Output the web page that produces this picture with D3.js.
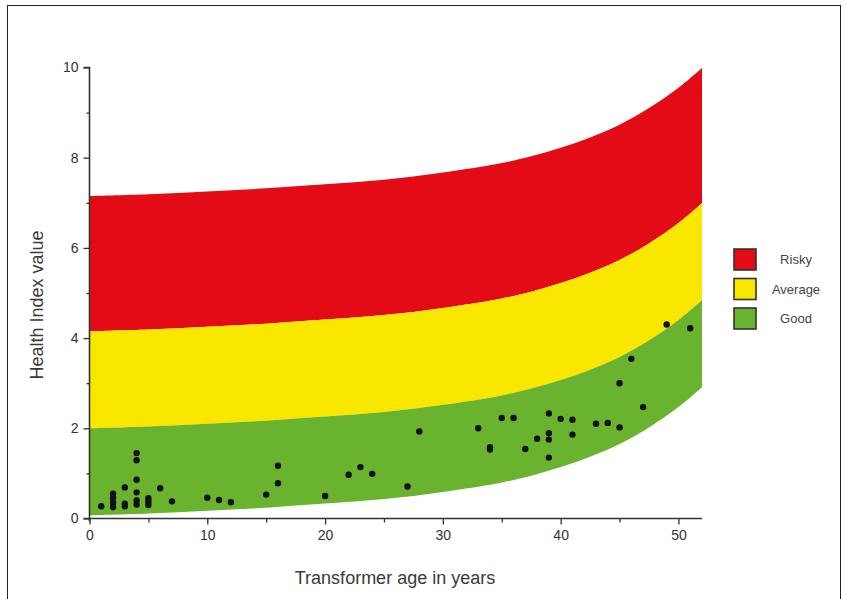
<!DOCTYPE html>
<html>
<head>
<meta charset="utf-8">
<script src="https://d3js.org/d3.v7.min.js"></script>
<style>
  body { margin: 0; background: #fff; }
  svg { display: block; font-family: "Liberation Sans", Arial, sans-serif; }
</style>
</head>
<body>
<svg id="chart" width="847" height="599"></svg>
<script>

// band boundaries, at these ages
const ages        = [0, 5, 10, 15, 20, 25, 30, 35, 37.5, 40, 42.5, 45, 47.5, 50, 52]
const goodBottom  = [0.07, 0.11, 0.17, 0.24, 0.33, 0.43, 0.59, 0.80, 0.95, 1.14, 1.37, 1.65, 2.02, 2.47, 2.91]
const goodTop     = [2.00, 2.04, 2.10, 2.17, 2.26, 2.36, 2.52, 2.73, 2.88, 3.07, 3.30, 3.58, 3.95, 4.40, 4.84]
const averageTop  = [4.15, 4.19, 4.25, 4.32, 4.41, 4.51, 4.67, 4.88, 5.03, 5.22, 5.45, 5.73, 6.10, 6.55, 6.99]
const riskyTop    = [7.15, 7.19, 7.25, 7.32, 7.41, 7.51, 7.67, 7.88, 8.03, 8.22, 8.45, 8.73, 9.10, 9.55, 9.99]

// transformers: age and health index
const pointAges   = [1, 2, 2, 2, 2, 3, 3, 3, 4, 4, 4, 4, 4, 4, 5, 5, 5, 6, 7,
                     10, 11, 12, 15, 16, 16, 20, 22, 23, 24, 27, 28,
                     33, 34, 34, 35, 36, 37, 38, 39, 39, 39, 39, 40, 41, 41,
                     43, 44, 45, 45, 46, 47, 49, 51]
const pointValues = [0.27, 0.25, 0.35, 0.45, 0.55, 0.27, 0.33, 0.69, 0.31, 0.40, 0.58, 0.86, 1.29, 1.45, 0.30, 0.37, 0.45, 0.67, 0.38,
                     0.46, 0.41, 0.36, 0.53, 0.78, 1.17, 0.50, 0.97, 1.14, 0.99, 0.71, 1.93,
                     2.00, 1.53, 1.58, 2.23, 2.23, 1.54, 1.77, 1.35, 1.75, 1.89, 2.33, 2.21, 1.86, 2.19,
                     2.10, 2.12, 2.02, 3.00, 3.54, 2.47, 4.30, 4.22]

const yTicks = [0, 2, 4, 6, 8, 10]
const xTicks = [0, 10, 20, 30, 40, 50]

const bandNames  = ['Risky', 'Average', 'Good']
const bandColors = ['#e20b16', '#f9e700', '#6ab32e']

const svg = d3.select('#chart')

// outer frame
svg.append('rect')
  .attr('x', 7.5).attr('y', 5.5)
  .attr('width', 833).attr('height', 600)
  .attr('fill', 'none').attr('stroke', '#222').attr('stroke-width', 1)

const x = d3.scaleLinear().domain([0, 52]).range([89.5, 702])
const y = d3.scaleLinear().domain([0, 10]).range([518.5, 67.5])

const rows = ages.map((a, i) => ({ a, b0: goodBottom[i], b1: goodTop[i], b2: averageTop[i], b3: riskyTop[i] }))

const area = (lo, hi) => d3.area()
  .x(d => x(d.a))
  .y0(d => y(d[lo]))
  .y1(d => y(d[hi]))
  .curve(d3.curveCatmullRom)

const bands = [['b2', 'b3'], ['b1', 'b2'], ['b0', 'b1']]
bands.forEach((b, i) => {
  svg.append('path')
    .datum(rows)
    .attr('d', area(b[0], b[1]))
    .attr('fill', bandColors[i])
})

// points
svg.append('g')
  .selectAll('circle')
  .data(pointAges.map((a, i) => [a, pointValues[i]]))
  .join('circle')
    .attr('cx', d => x(d[0]))
    .attr('cy', d => y(d[1]))
    .attr('r', 3.2)
    .attr('fill', '#111')

// axes
const axisColor = '#333'

const yAxis = svg.append('g').attr('transform', `translate(${x(0)},0)`)
yAxis.call(d3.axisLeft(y).tickValues(d3.range(0, 11, 1)).tickSize(5).tickFormat(d => yTicks.includes(d) ? d : ''))
yAxis.select('.domain').attr('stroke', axisColor).attr('stroke-width', 1.6)
  .attr('d', `M-6,${y(10)}H0V${y(0) + 3}`)
yAxis.selectAll('.tick line').attr('stroke', axisColor).attr('stroke-width', 1.3)
  .attr('x2', d => yTicks.includes(d) ? -6 : -3)
yAxis.selectAll('.tick text').attr('fill', '#333').attr('font-size', 14).attr('x', -11)

const xAxis = svg.append('g').attr('transform', `translate(0,${y(0)})`)
xAxis.call(d3.axisBottom(x).tickValues(d3.range(0, 51, 5)).tickSize(5).tickFormat(d => xTicks.includes(d) ? d : ''))
xAxis.select('.domain').attr('stroke', axisColor).attr('stroke-width', 1.6)
  .attr('d', `M${x(0) - 6},0H${x(52)}`)
xAxis.selectAll('.tick line').attr('stroke', axisColor).attr('stroke-width', 1.3)
  .attr('y2', d => xTicks.includes(d) ? 6 : 4)
xAxis.selectAll('.tick text').attr('fill', '#333').attr('font-size', 14).attr('y', 12)

// axis titles
svg.append('text')
  .attr('x', 395).attr('y', 584)
  .attr('text-anchor', 'middle')
  .attr('font-size', 18).attr('fill', '#3a3a3a')
  .text('Transformer age in years')

svg.append('text')
  .attr('transform', 'translate(43,305) rotate(-90)')
  .attr('text-anchor', 'middle')
  .attr('font-size', 18).attr('fill', '#3a3a3a')
  .text('Health Index value')

// legend
const legend = svg.append('g').attr('transform', 'translate(734,249)')
bandNames.forEach((name, i) => {
  legend.append('rect')
    .attr('x', 0).attr('y', i * 29.5)
    .attr('width', 22).attr('height', 21)
    .attr('fill', bandColors[i])
    .attr('stroke', '#333').attr('stroke-width', 1.6)
  legend.append('text')
    .attr('x', 62).attr('y', i * 29.5 + 15)
    .attr('text-anchor', 'middle')
    .attr('font-size', 13).attr('fill', '#444')
    .text(name)
})

</script>
</body>
</html>
